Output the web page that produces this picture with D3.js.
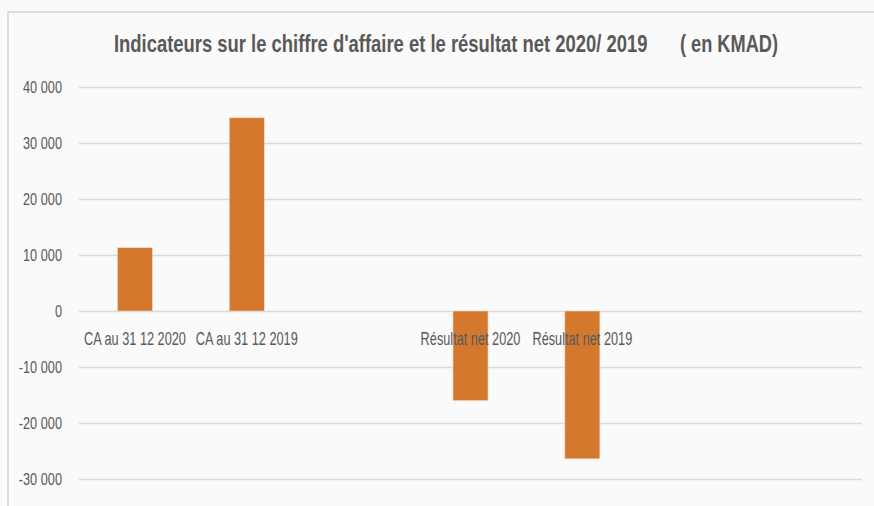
<!DOCTYPE html>
<html>
<head>
<meta charset="utf-8">
<script src="https://cdn.jsdelivr.net/npm/d3@7"></script>
<style>
  html, body { margin: 0; padding: 0; background: #fafafa; }
  svg { display: block; }
  text { font-family: "Liberation Sans Narrow", "Liberation Sans", sans-serif; fill: #595959; }
</style>
</head>
<body>
<svg id="chart"></svg>
<script>
const WIDTH = 874;
const HEIGHT = 506;

const categories = ["CA au 31 12 2020", "CA au 31 12 2019", "", "Résultat net 2020", "Résultat net 2019", "", ""];
const values = [11300, 34500, null, -16000, -26400, null, null];
const yTicks = [-30000, -20000, -10000, 0, 10000, 20000, 30000, 40000];
const titleMain = "Indicateurs sur le chiffre d'affaire et le résultat net 2020/ 2019";
const titleUnit = "( en KMAD)";

const BAR_COLOR = "#d4782d";
const GRID_COLOR = "#d9d9d9";

const plot = {left: 79, right: 862, top: 87, bottom: 479};

const svg = d3.select("#chart")
    .attr("width", WIDTH)
    .attr("height", HEIGHT);

// the reference font is condensed: squeeze a text horizontally round its anchor
function placeCondensed(node, px, py, factor) {
    d3.select(node)
        .attr("x", 0).attr("y", 0)
        .attr("transform", `translate(${px},${py}) scale(${factor},1)`);
}

// chart frame (only top and left edges show in the picture)
svg.append("path")
    .attr("d", `M8,${HEIGHT} V12 H${WIDTH}`)
    .attr("fill", "none")
    .attr("stroke", "#dcdcdc")
    .attr("stroke-width", 2);

// title, two pieces squeezed to the width they have in the reference
[[titleMain, 114, 534], [titleUnit, 680, 98]].forEach(([t, left, w]) => {
    const node = svg.append("text")
        .style("font-size", "24px").style("font-weight", "bold")
        .text(t).node();
    placeCondensed(node, left, 52, w / node.getComputedTextLength());
});

const x = d3.scaleBand()
    .domain(d3.range(categories.length))
    .range([plot.left, plot.right])
    .paddingInner(0.687)
    .paddingOuter(0.3435);

const y = d3.scaleLinear()
    .domain([-30000, 40000])
    .range([plot.bottom, plot.top]);

const fmt = v => d3.format(",")(v).replace(/,/g, " ").replace("−", "-");

// gridlines + y labels
const yAxis = svg.append("g")
    .attr("transform", `translate(${plot.left},0)`)
    .call(d3.axisLeft(y)
        .tickValues(yTicks)
        .tickSize(-(plot.right - plot.left))
        .tickFormat(fmt));
yAxis.select(".domain").remove();
yAxis.selectAll(".tick line")
    .attr("stroke", GRID_COLOR)
    .attr("stroke-width", 1.3);
const tickTexts = yAxis.selectAll(".tick text")
    .attr("fill", "#595959")
    .attr("dy", "0.36em")
    .style("font-size", "16.5px");
// "40 000" is about 39px wide in the reference
const tickFactor = 39 / tickTexts.filter(d => d === 40000).node().getComputedTextLength();
tickTexts.each(function() { placeCondensed(this, -17, 0, tickFactor); });

// bars
const barData = values.map((v, i) => ({i, v})).filter(d => d.v !== null);
svg.selectAll(".bars").data(barData).join("rect")
    .attr("class", "bars")
    .attr("x", d => x(d.i))
    .attr("width", x.bandwidth())
    .attr("y", d => y(Math.max(0, d.v)))
    .attr("height", d => Math.abs(y(d.v) - y(0)))
    .attr("fill", BAR_COLOR)
    .attr("stroke", "#f3d9c4")
    .attr("stroke-width", 0.6);

// category labels next to the zero line, drawn over the bars
const catLabels = svg.selectAll(".catLabel")
    .data(categories.map((c, i) => ({c, i})).filter(d => d.c !== ""))
    .join("text")
    .attr("class", "catLabel")
    .attr("text-anchor", "middle")
    .style("font-size", "18px")
    .text(d => d.c);
// "CA au 31 12 2020" is about 102px wide in the reference
const catFactor = 102 / catLabels.node().getComputedTextLength();
catLabels.each(function(d) {
    placeCondensed(this, x(d.i) + x.bandwidth() / 2, 345, catFactor);
});
</script>
</body>
</html>
